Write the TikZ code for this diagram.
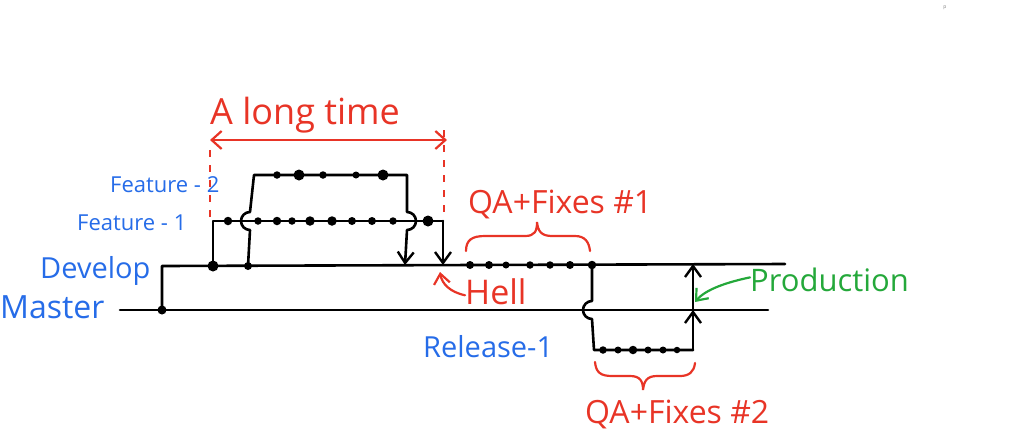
\documentclass[tikz,border=0pt]{standalone}
\usepackage{fontspec}
\setmainfont{Open Sans}
\usetikzlibrary{arrows.meta, calc}
\definecolor{inkR}{RGB}{232,52,38}
\definecolor{inkB}{RGB}{38,108,232}
\definecolor{inkG}{RGB}{36,168,58}
\tikzset{
  branch/.style={line width=2.6pt, line cap=round, line join=round},
  merge/.style={branch, -{Straight Barb[length=11pt, width=16pt, line width=2.4pt]}},
  commit/.style={circle, fill=black, inner sep=0pt, minimum size=#1},
  commit/.default=8pt,
  note/.style={inner sep=0pt, anchor=base west},
  pen/.style={line width=2.2pt, line cap=round, -{Straight Barb[length=10pt, width=16pt, line width=2.2pt]}},
}
\begin{document}
\begin{tikzpicture}[x=1pt, y=-1pt]
\useasboundingbox (0,0) rectangle (1024,429);
% ====== branch points ======
\coordinate (mS) at (120,310);
\coordinate (mE) at (768,310);
\coordinate (mD) at (162,310);
\coordinate (dS) at (162,266);
\coordinate (dE) at (785,264);
\coordinate (dF1) at (213,266);
\coordinate (f1S) at (213,221);
\coordinate (f1E) at (443,221);
\coordinate (dM1) at (443,265);
\coordinate (dF2) at (248,266);
\coordinate (dM2) at (405,265);
\coordinate (dR) at (592,265);
\coordinate (rS) at (594,350);
\coordinate (rE) at (693,350);
\coordinate (mR) at (693,310);
\coordinate (dR2) at (693,264);
% ====== master and develop ======
\draw[branch] (mS) -- (mE);
\draw[branch] (mD) -- (dS) -- (dE);
% ====== feature-1 ======
\draw[branch] (dF1) -- (f1S) -- (f1E);
\draw[merge] (f1E) -- (dM1);
% ====== feature-2 (hops over feature-1) ======
\draw[merge] (dF2) -- (250,230) arc[start angle=90, end angle=270, radius=9]
  -- (254,175) -- (407,175) -- (407,212) arc[start angle=-90, end angle=90, radius=9]
  -- (dM2);
% ====== release-1 (hops over master) ======
\draw[branch] (dR) -- (592,301) arc[start angle=-90, end angle=-270, radius=9]
  -- (rS) -- (rE);
\draw[merge] (rE) -- (mR);
\draw[merge] (mR) -- (dR2);
% ====== commits ======
\node[commit=9pt] (c0) at (mD) {};
\node[commit=11pt] (d1) at (dF1) {};
\node[commit] (d2) at (dF2) {};
\foreach \x/\s [count=\i] in {228/8.5pt, 258/7.5pt, 277/8.5pt, 292/7.5pt, 310/9.5pt, 332/9.5pt, 352/8pt, 372/8pt, 393/7.5pt, 428/11pt}
  \node[commit=\s] (fa\i) at (\x,221) {};
\foreach \x/\s [count=\i] in {277/7.5pt, 299/11pt, 323/7.5pt, 356/7pt, 383/11pt}
  \node[commit=\s] (fb\i) at (\x,175) {};
\foreach \x/\s [count=\i] in {470/8pt, 489/8pt, 506/7pt, 530/7.5pt, 550/7.5pt, 570/8pt, 592/8.5pt}
  \node[commit=\s] (qa\i) at (\x,265) {};
\foreach \x/\s [count=\i] in {603/7.5pt, 618/7pt, 633/8.5pt, 648/7pt, 663/7pt, 677/6.5pt}
  \node[commit=\s] (qb\i) at (\x,350) {};
% ====== labels ======
\node[note, inkB, font=\fontsize{32}{32}\selectfont] (lMaster) at (0,318) {Master};
\node[note, inkB, font=\fontsize{29}{29}\selectfont] (lDevelop) at (40,278) {Develop};
\node[note, inkB, font=\fontsize{22}{22}\selectfont] (lF1) at (77,230) {Feature - 1};
\node[note, inkB, font=\fontsize{22}{22}\selectfont] (lF2) at (110,192) {Feature - 2};
\node[note, inkB, font=\fontsize{29}{29}\selectfont] (lRel) at (423,357) {Release-1};
\node[note, inkR, font=\fontsize{36}{36}\selectfont] (lLong) at (210,124) {A long time};
\node[note, inkR, font=\fontsize{32}{32}\selectfont] (lQA1) at (468,213) {QA+Fixes \#1};
\node[note, inkR, font=\fontsize{32}{32}\selectfont] (lQA2) at (585,423) {QA+Fixes \#2};
\node[note, inkR, font=\fontsize{34}{34}\selectfont] (lHell) at (465,304) {Hell};
\node[note, inkG, font=\fontsize{31}{31}\selectfont] (lProd) at (750,291) {Production};
\node[gray, font=\fontsize{5}{5}\selectfont, inner sep=0pt] (lp) at (945,8) {p};
% ====== "a long time" span ======
\draw[inkR, line width=2.2pt, {Straight Barb[length=10pt, width=18pt, line width=2.2pt]}-{Straight Barb[length=10pt, width=18pt, line width=2.2pt]}] (210,140) -- (447,140);
\draw[inkR, line width=1.8pt, dash pattern=on 7pt off 8pt] (210,150) -- (210,218);
\draw[inkR, line width=1.8pt, dash pattern=on 7pt off 8pt] (444,130) -- (444,212);
% ====== callouts ======
\draw[pen, inkR] ($(lHell.west)+(0,4)$) .. controls (450,292) and (442,284) .. (440,272);
\draw[pen, inkG] ($(lProd.west)+(0,-2)$) .. controls (728,282) and (706,289) .. (695,302);
% ====== braces ======
\draw[inkR, line width=2.2pt, line cap=round] (466,251) .. controls (466,240) and (472,236) .. (485,236)
  -- (525,236) .. controls (535,236) and (537,231) .. (537,222)
  .. controls (538,231) and (541,236) .. (552,236) -- (575,236)
  .. controls (585,236) and (589,242) .. (590,251);
\draw[inkR, line width=2.2pt, line cap=round] (595,362) .. controls (596,372) and (600,376) .. (612,376)
  -- (630,376) .. controls (640,376) and (643,381) .. (643,390)
  .. controls (644,381) and (647,376) .. (657,376) -- (680,376)
  .. controls (689,376) and (694,372) .. (695,363);
\end{tikzpicture}
\end{document}
